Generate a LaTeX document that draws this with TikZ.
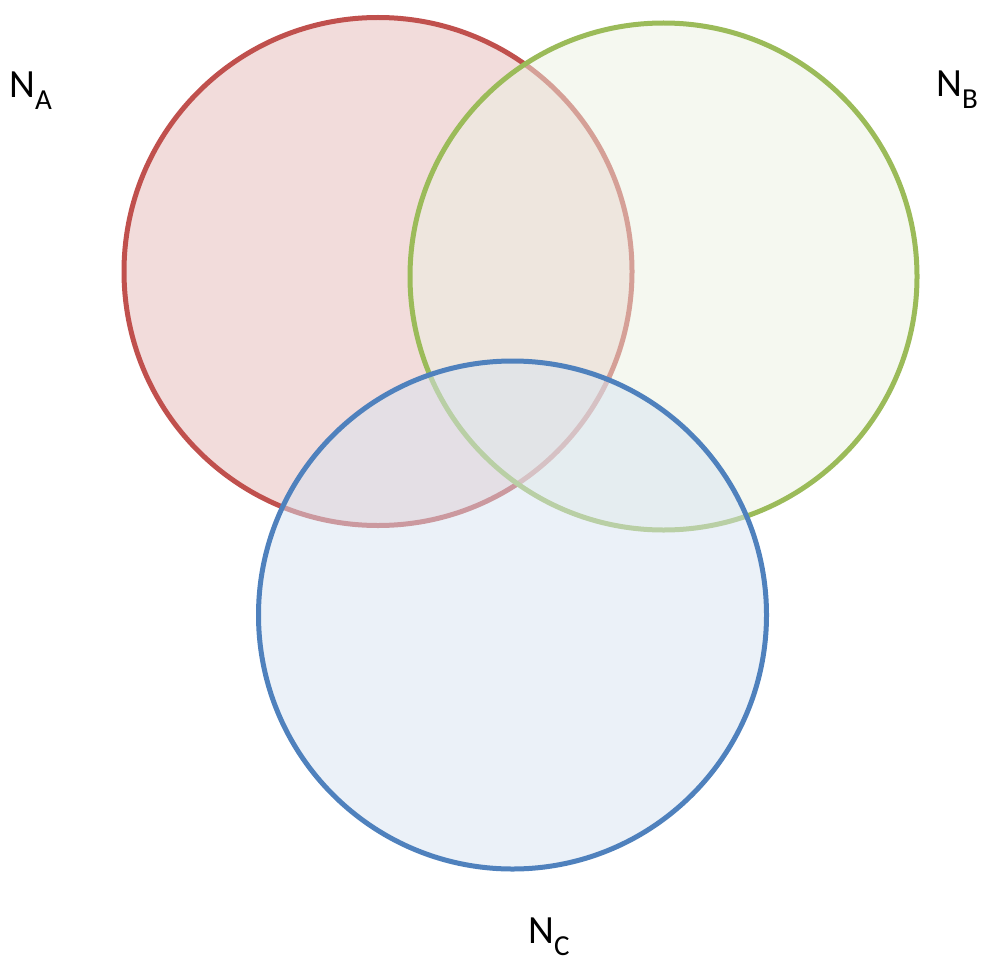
\documentclass[tikz,border=0pt]{standalone}
\usepackage{fontspec}
\setmainfont{Carlito}
\begin{document}
\begin{tikzpicture}[x=1pt,y=-1pt]
  \definecolor{redline}{RGB}{192,80,77}
  \definecolor{redfill}{RGB}{229,185,183}
  \definecolor{greenline}{RGB}{155,187,89}
  \definecolor{greenfill}{RGB}{235,241,225}
  \definecolor{blueline}{RGB}{79,129,189}
  \definecolor{bluefill}{RGB}{215,227,241}
  \tikzset{
    setcircle/.style={line width=5pt, fill opacity=0.5},
    setlabel/.style={anchor=base west, inner sep=0pt, font=\fontsize{40}{40}\selectfont},
  }
  \newcommand{\setsub}[1]{\raisebox{-12pt}{\fontsize{29}{29}\selectfont #1}}
  \useasboundingbox (0,0) rectangle (987,963);

  % the three sets, each fill laid over the previous ones
  \draw[setcircle, draw=redline, fill=redfill] (378,271.5) circle (254);
  \draw[setcircle, draw=greenline, fill=greenfill] (663.5,276.5) circle (253.5);
  \draw[setcircle, draw=blueline, fill=bluefill] (512.5,615) circle (254);

  % set names
  \node[setlabel] (na) at (9,98) {N\setsub{A}};
  \node[setlabel] (nb) at (936,97) {N\setsub{B}};
  \node[setlabel] (nc) at (528,943) {N\setsub{C}};
\end{tikzpicture}
\end{document}
